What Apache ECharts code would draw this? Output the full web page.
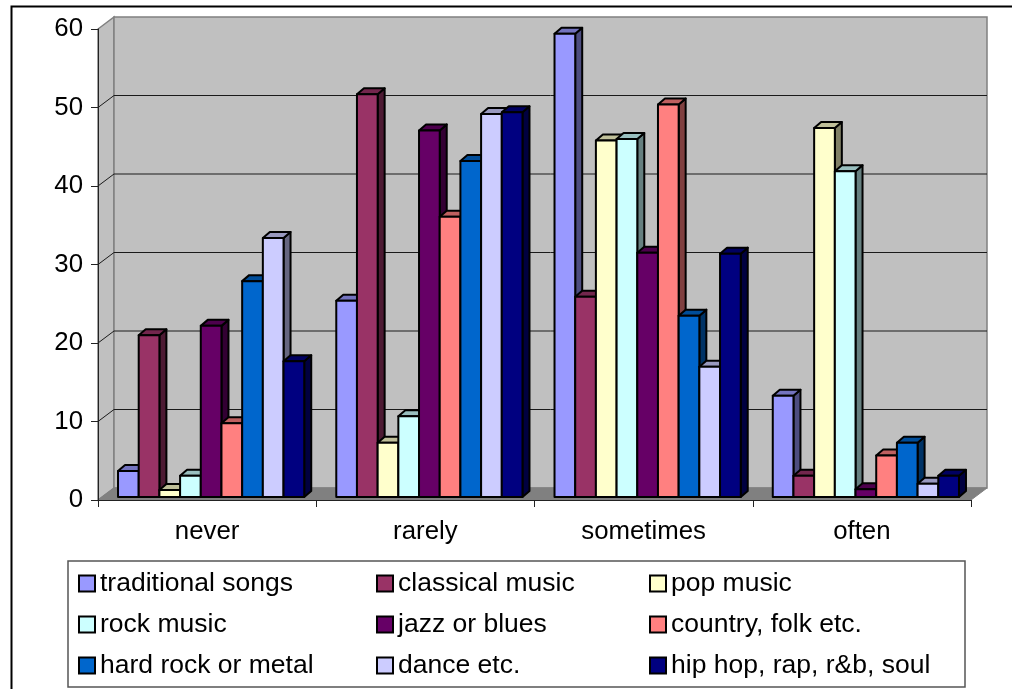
<!DOCTYPE html>
<html>
<head>
<meta charset="utf-8">
<style>html,body{margin:0;padding:0;background:#fff}#chart{width:1012px;height:689px}</style>
<script src="https://cdn.jsdelivr.net/npm/echarts@6/dist/echarts.min.js"></script>
</head>
<body>
<div id="chart"></div>
<script>
// Frequency of listening per music genre
const categories = ['never', 'rarely', 'sometimes', 'often'];
const yTicks = [0, 10, 20, 30, 40, 50, 60];
const genres = ['traditional songs', 'classical music', 'pop music', 'rock music', 'jazz or blues',
  'country, folk etc.', 'hard rock or metal', 'dance etc.', 'hip hop, rap, r&b, soul'];
const colors = ['#9999FF', '#993366', '#FFFFCC', '#CCFFFF', '#660066', '#FF8080', '#0066CC', '#CCCCFF', '#000080'];
const traditional = [3.3, 25, 59, 12.9];
const classical = [20.6, 51.3, 25.5, 2.7];
const pop = [0.9, 6.9, 45.4, 47];
const rock = [2.7, 10.3, 45.6, 41.5];
const jazz = [21.8, 46.7, 31.1, 1.0];
const country = [9.4, 35.7, 50, 5.3];
const hardRock = [27.5, 42.8, 23.1, 6.9];
const dance = [33, 48.8, 16.6, 1.7];
const hipHop = [17.3, 49, 31, 2.7];
const seriesValues = [traditional, classical, pop, rock, jazz, country, hardRock, dance, hipHop];
const legendColumns = [[0, 3, 6], [1, 4, 7], [2, 5, 8]];
const legendLeft = [78, 376, 649];

// Pseudo-3D projection, in pixels
const WALL_DX = 16, WALL_DY = -12;
const BAR_IN_DX = 4, BAR_IN_DY = -3;
const BAR_DX = 7, BAR_DY = -6;
const BAR_FRACTION = 0.0948;

function shade(hex, k) {
  const n = parseInt(hex.slice(1), 16);
  const c = [n >> 16, (n >> 8) & 255, n & 255].map(v => Math.round(v * k));
  return 'rgb(' + c.join(',') + ')';
}

function renderBar(seriesIndex, color) {
  return function (params, api) {
    const band = api.size([1, 0])[0];
    const w = band * BAR_FRACTION;
    const center = api.coord([api.value(0), 0]);
    const top = api.coord([api.value(0), api.value(1)]);
    const x = center[0] - w * seriesValues.length / 2 + w * seriesIndex + BAR_IN_DX;
    const y0 = center[1] + BAR_IN_DY;
    const y1 = top[1] + BAR_IN_DY;
    const line = { stroke: '#000', lineWidth: 2, lineJoin: 'round' };
    const poly = (pts, fill) => ({
      type: 'polygon', shape: { points: pts },
      style: Object.assign({ fill }, line)
    });
    return {
      type: 'group',
      children: [
        poly([[x + w, y1], [x + w + BAR_DX, y1 + BAR_DY], [x + w + BAR_DX, y0 + BAR_DY], [x + w, y0]], shade(color, 0.5)),
        poly([[x, y1], [x + BAR_DX, y1 + BAR_DY], [x + w + BAR_DX, y1 + BAR_DY], [x + w, y1]], shade(color, 0.75)),
        poly([[x, y0], [x, y1], [x + w, y1], [x + w, y0]], color)
      ]
    };
  };
}

// Back wall, side wall, floor and the gridlines that run across them
function renderWalls(params, api) {
  const cs = params.coordSys;
  const x0 = cs.x, x1 = cs.x + cs.width;
  const base = api.coord([0, 0])[1];
  const top = api.coord([0, yTicks[yTicks.length - 1]])[1];
  const edge = { stroke: '#808080', lineWidth: 1.5 };
  const children = [
    { type: 'polygon', shape: { points: [[x0, base], [x0 + WALL_DX, base + WALL_DY], [x0 + WALL_DX, top + WALL_DY], [x0, top]] },
      style: Object.assign({ fill: '#C0C0C0' }, edge) },
    { type: 'polygon', shape: { points: [[x0 + WALL_DX, base + WALL_DY], [x0 + WALL_DX, top + WALL_DY], [x1 + WALL_DX, top + WALL_DY], [x1 + WALL_DX, base + WALL_DY]] },
      style: Object.assign({ fill: '#C0C0C0' }, edge) },
    { type: 'polygon', shape: { points: [[x0, base], [x0 + WALL_DX, base + WALL_DY], [x1 + WALL_DX, base + WALL_DY], [x1, base]] },
      style: { fill: '#808080', stroke: '#808080', lineWidth: 1 } }
  ];
  yTicks.slice(1, -1).forEach(t => {
    const y = api.coord([0, t])[1];
    children.push({ type: 'polyline', shape: { points: [[x0, y], [x0 + WALL_DX, y + WALL_DY], [x1 + WALL_DX, y + WALL_DY]] },
      style: { fill: 'none', stroke: '#1a1a1a', lineWidth: 1 } });
  });
  return { type: 'group', children };
}

const series = [{
  name: 'walls', type: 'custom', coordinateSystem: 'cartesian2d', clip: false, silent: true, z: 1,
  renderItem: renderWalls, data: [[0, 0]], encode: { x: 0, y: 1 }
}];
genres.forEach((name, i) => {
  series.push({
    name, type: 'custom', coordinateSystem: 'cartesian2d', clip: false, z: 2 + i,
    itemStyle: { color: colors[i], borderColor: '#000', borderWidth: 2 },
    renderItem: renderBar(i, colors[i]),
    encode: { x: 0, y: 1 },
    data: categories.map((c, j) => [j, seriesValues[i][j]])
  });
});

const labelFont = 'Liberation Sans, Arial, sans-serif';
const option = {
  animation: false,
  backgroundColor: '#fff',
  grid: { left: 98, top: 29, width: 873, height: 471, containLabel: false },
  xAxis: {
    type: 'category', data: categories, z: 20,
    axisLine: { lineStyle: { color: '#222', width: 1 } },
    axisTick: { show: true, alignWithLabel: false, length: 7, lineStyle: { color: '#222' } },
    axisLabel: { color: '#000', fontSize: 25.8, fontFamily: labelFont, margin: 19 }
  },
  yAxis: {
    type: 'value', min: 0, max: 60, interval: 10, z: 20,
    axisLine: { show: true, lineStyle: { color: '#222', width: 1 } },
    axisTick: { show: true, length: 7, lineStyle: { color: '#222' } },
    splitLine: { show: false },
    axisLabel: { color: '#000', fontSize: 25.8, fontFamily: labelFont, margin: 15, padding: [4, 0, 0, 0] }
  },
  legend: legendColumns.map((col, i) => ({
    orient: 'vertical', left: legendLeft[i], top: 570,
    data: col.map(k => genres[k]),
    itemWidth: 16, itemHeight: 16, itemGap: 14, padding: 0,
    icon: 'rect',
    selectedMode: false,
    textStyle: { color: '#000', fontSize: 26.5, fontFamily: labelFont }
  })),
  graphic: [
    { type: 'rect', z: -1, shape: { x: 68, y: 561, width: 897, height: 126 },
      style: { fill: '#fff', stroke: '#555', lineWidth: 1.5 } },
    { type: 'polyline', z: -2, shape: { points: [[11.5, 689], [11.5, 6.5], [1012, 6.5]] },
      style: { fill: 'none', stroke: '#000', lineWidth: 2 } }
  ],
  series
};

echarts.init(document.getElementById('chart'), null, { renderer: 'canvas' }).setOption(option);
</script>
</body>
</html>
